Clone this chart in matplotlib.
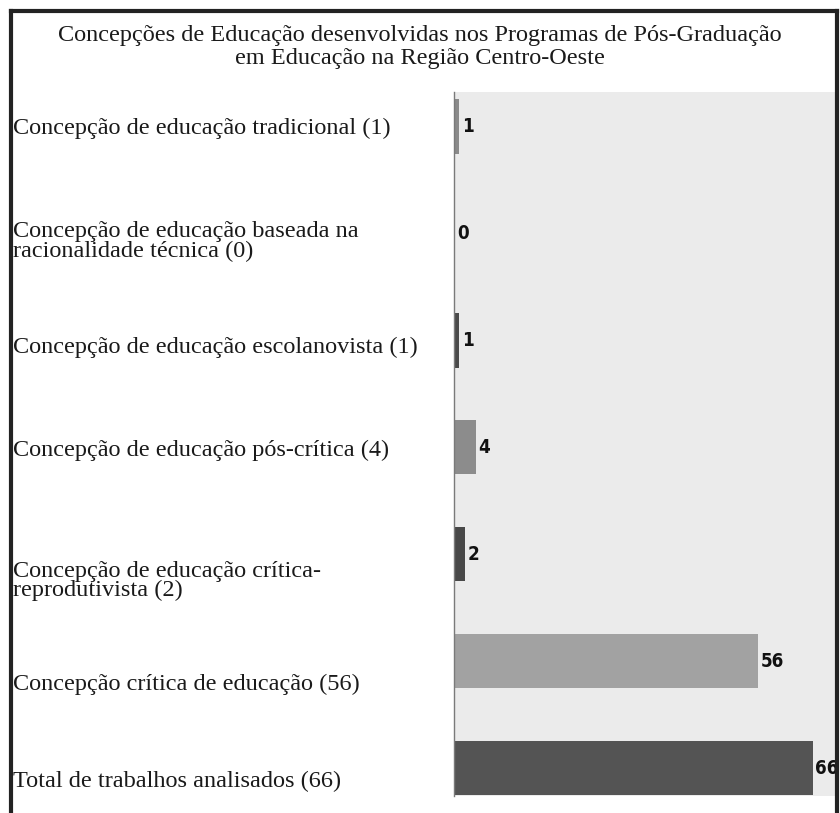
import matplotlib
matplotlib.use("Agg")
import matplotlib.pyplot as plt
from matplotlib.lines import Line2D
import matplotlib.transforms as mtransforms

title = "Concepções de Educação desenvolvidas nos Programas de Pós-Graduação\nem Educação na Região Centro-Oeste"
categories = [
    "Concepção de educação tradicional (1)",
    "Concepção de educação baseada na\nracionalidade técnica (0)",
    "Concepção de educação escolanovista (1)",
    "Concepção de educação pós-crítica (4)",
    "Concepção de educação crítica-\nreprodutivista (2)",
    "Concepção crítica de educação (56)",
    "Total de trabalhos analisados (66)",
]
values = [1, 0, 1, 4, 2, 56, 66]
colors = ["#8a8a8a", "#bdbdbd", "#4a4a4a", "#8c8c8c", "#484848", "#a2a2a2", "#545454"]
label_offsets = [0.02, 0.08, 0.07, 0.03, 0.25, 0.22, 0.12]

W, H = 840, 813
fig = plt.figure(figsize=(W / 100, H / 100), dpi=100)
fig.patch.set_facecolor("white")

ax = fig.add_axes([454 / W, 17 / H, 382 / W, (796 - 92) / H])
ax.set_facecolor("#ebebeb")
ypos = list(range(len(values)))
ax.barh(ypos, values, height=0.51, color=colors, zorder=2)
ax.set_xlim(0, 70.3)
ax.set_ylim(6.26, -0.32)
for s in ["top", "right", "bottom"]:
    ax.spines[s].set_visible(False)
ax.spines["left"].set_color("#7a7a7a")
ax.spines["left"].set_linewidth(1.0)
ax.set_xticks([])
ax.set_yticks([])

for y, v in zip(ypos, values):
    ax.annotate(str(v), (v, y), xytext=(2, 0), textcoords="offset points",
                va="center", ha="left", fontsize=13.5, fontweight="bold",
                family="DejaVu Sans", fontstretch="condensed",
                color="#111111", clip_on=False, zorder=3)

serif = ["Liberation Serif", "DejaVu Serif"]
trans = mtransforms.blended_transform_factory(fig.transFigure, ax.transData)
for y, lab, off in zip(ypos, categories, label_offsets):
    fig.text(13 / W, y + off, lab, transform=trans, ha="left", va="center",
             fontsize=17.5, family=serif, color="#1a1a1a", linespacing=0.92)

fig.text(0.5, 1 - 47 / H, title, ha="center", va="center", fontsize=17.5,
         family=serif, color="#1a1a1a", linespacing=1.16)

# border of the figure box
lw = 3
fig.add_artist(Line2D([11 / W, 11 / W], [0, 1 - 11 / H], transform=fig.transFigure,
                      color="#222222", lw=lw))
fig.add_artist(Line2D([11 / W, 837 / W], [1 - 11 / H, 1 - 11 / H], transform=fig.transFigure,
                      color="#222222", lw=lw))
fig.add_artist(Line2D([837 / W, 837 / W], [0, 1 - 11 / H], transform=fig.transFigure,
                      color="#222222", lw=lw))

fig.savefig("out.png", dpi=100, facecolor="white")
